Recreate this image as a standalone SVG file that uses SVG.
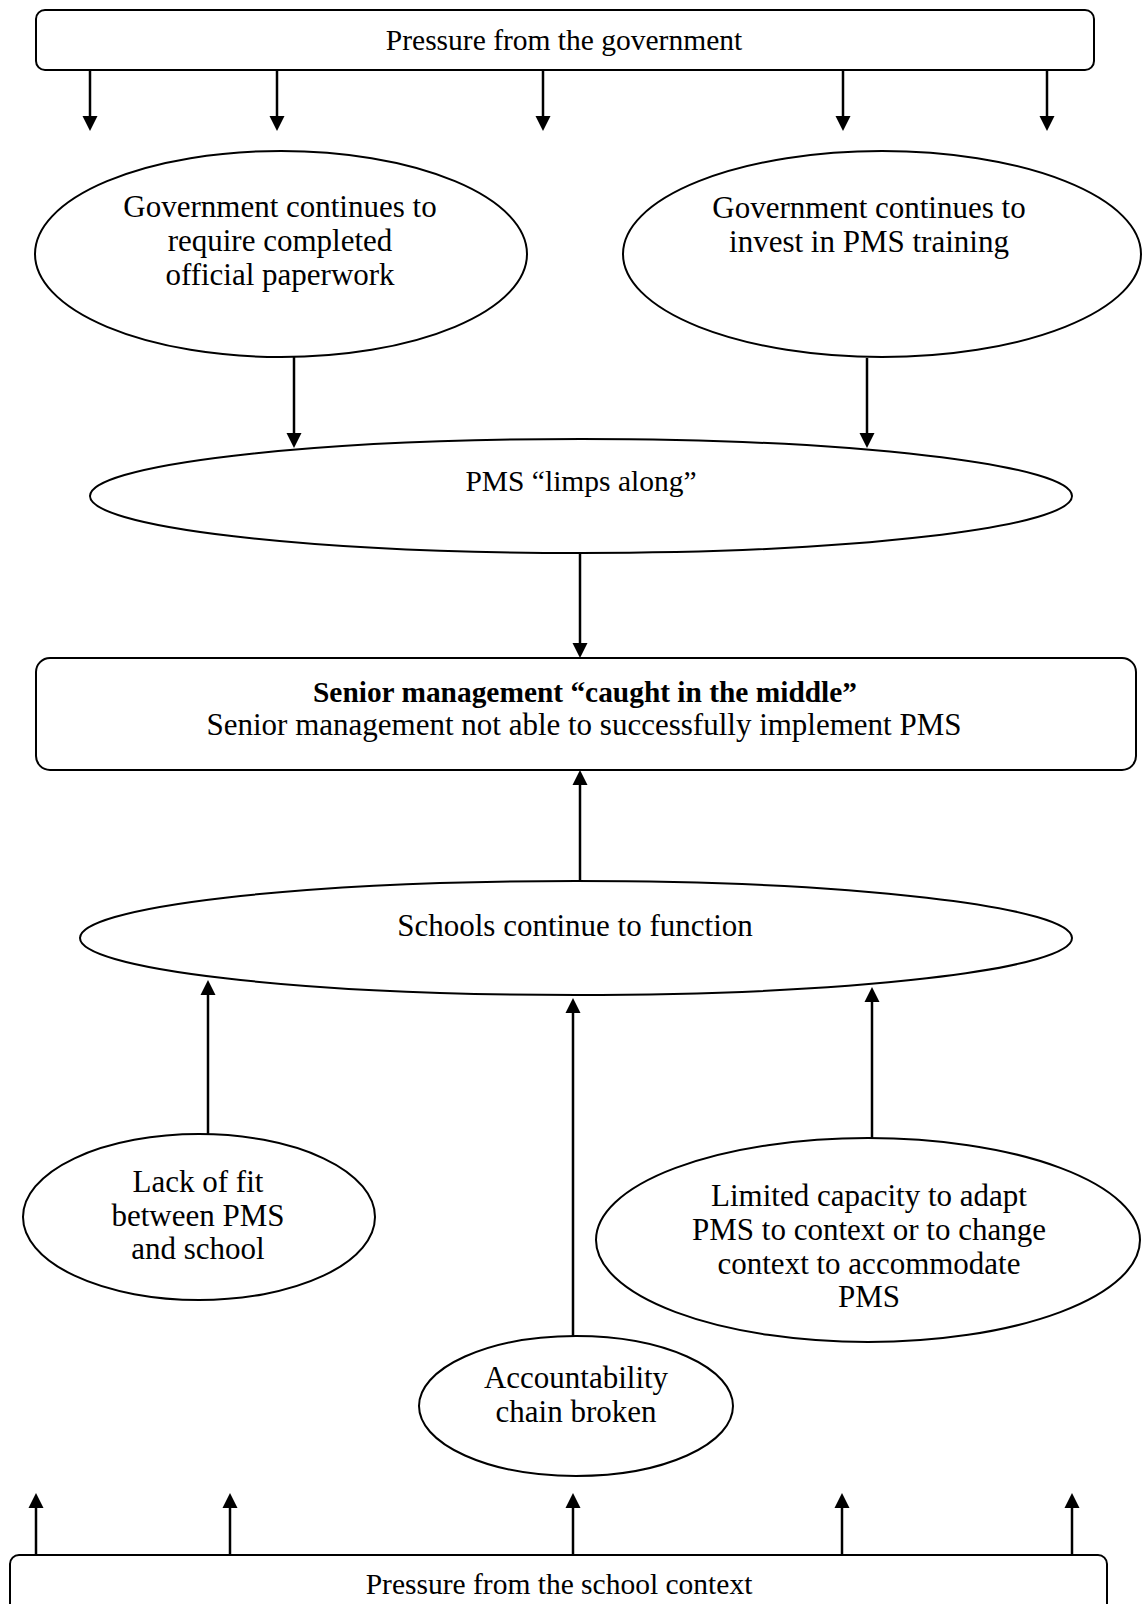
<svg xmlns="http://www.w3.org/2000/svg" width="1144" height="1604" viewBox="0 0 1144 1604">
  <style>
    .shape { fill: #ffffff; stroke: #000000; stroke-width: 2; }
    .lbl { font-family: "Liberation Serif", "Times New Roman", serif; font-size: 31px; fill: #000000; text-anchor: middle; }
    .sm { font-size: 29.5px; }
    .bold { font-weight: bold; font-size: 29.4px; }
    .conn { stroke: #000000; stroke-width: 2.5; fill: none; }
  </style>
  <defs>
    <!-- arrowheads: tip at the origin -->
    <path id="hd" d="M-7.5,-15 L7.5,-15 L0,0 Z" fill="#000000"/>
    <path id="hu" d="M-7.5,15 L7.5,15 L0,0 Z" fill="#000000"/>
  </defs>
  <rect width="1144" height="1604" fill="#ffffff"/>

  <g id="connectors">
    <!-- government pressure, pointing down -->
    <line class="conn" x1="90" y1="70" x2="90" y2="118"/>
    <line class="conn" x1="277" y1="70" x2="277" y2="118"/>
    <line class="conn" x1="543" y1="70" x2="543" y2="118"/>
    <line class="conn" x1="843" y1="70" x2="843" y2="118"/>
    <line class="conn" x1="1047" y1="70" x2="1047" y2="118"/>
    <use href="#hd" x="90" y="131"/>
    <use href="#hd" x="277" y="131"/>
    <use href="#hd" x="543" y="131"/>
    <use href="#hd" x="843" y="131"/>
    <use href="#hd" x="1047" y="131"/>
    <!-- upper ellipses into "limps along" -->
    <line class="conn" x1="294" y1="356" x2="294" y2="435"/>
    <use href="#hd" x="294" y="448"/>
    <line class="conn" x1="867" y1="358" x2="867" y2="435"/>
    <use href="#hd" x="867" y="448"/>
    <!-- "limps along" into senior management -->
    <line class="conn" x1="580" y1="553" x2="580" y2="645"/>
    <use href="#hd" x="580" y="658"/>
    <!-- schools continue up to senior management -->
    <line class="conn" x1="580" y1="882" x2="580" y2="783"/>
    <use href="#hu" x="580" y="770"/>
    <!-- lower ellipses up to schools continue -->
    <line class="conn" x1="208" y1="1134" x2="208" y2="993"/>
    <use href="#hu" x="208" y="980"/>
    <line class="conn" x1="573" y1="1336" x2="573" y2="1011"/>
    <use href="#hu" x="573" y="998"/>
    <line class="conn" x1="872" y1="1138" x2="872" y2="1000"/>
    <use href="#hu" x="872" y="987"/>
    <!-- school context pressure, pointing up -->
    <line class="conn" x1="36" y1="1555" x2="36" y2="1506"/>
    <line class="conn" x1="230" y1="1555" x2="230" y2="1506"/>
    <line class="conn" x1="573" y1="1555" x2="573" y2="1506"/>
    <line class="conn" x1="842" y1="1555" x2="842" y2="1506"/>
    <line class="conn" x1="1072" y1="1555" x2="1072" y2="1506"/>
    <use href="#hu" x="36" y="1493"/>
    <use href="#hu" x="230" y="1493"/>
    <use href="#hu" x="573" y="1493"/>
    <use href="#hu" x="842" y="1493"/>
    <use href="#hu" x="1072" y="1493"/>
  </g>

  <g id="gov-pressure">
    <rect class="shape" x="36" y="10" width="1058" height="60" rx="9"/>
    <text class="lbl sm" x="564" y="50">Pressure from the government</text>
  </g>

  <g id="paperwork">
    <ellipse class="shape" cx="281" cy="254" rx="246" ry="103"/>
    <text class="lbl" x="280" y="217">Government continues to</text>
    <text class="lbl" x="280" y="251">require completed</text>
    <text class="lbl" x="280" y="285">official paperwork</text>
  </g>

  <g id="training">
    <ellipse class="shape" cx="882" cy="254" rx="259" ry="103"/>
    <text class="lbl" x="869" y="218">Government continues to</text>
    <text class="lbl" x="869" y="252">invest in PMS training</text>
  </g>

  <g id="limps-along">
    <ellipse class="shape" cx="581" cy="496" rx="491" ry="57"/>
    <text class="lbl sm" x="581" y="491">PMS “limps along”</text>
  </g>

  <g id="senior-management">
    <rect class="shape" x="36" y="658" width="1100" height="112" rx="14"/>
    <text class="lbl bold" x="585" y="702">Senior management “caught in the middle”</text>
    <text class="lbl" x="584" y="735">Senior management not able to successfully implement PMS</text>
  </g>

  <g id="schools-function">
    <ellipse class="shape" cx="576" cy="938" rx="496" ry="57"/>
    <text class="lbl" x="575" y="936">Schools continue to function</text>
  </g>

  <g id="lack-of-fit">
    <ellipse class="shape" cx="199" cy="1217" rx="176" ry="83"/>
    <text class="lbl" x="198" y="1192">Lack of fit</text>
    <text class="lbl" x="198" y="1226">between PMS</text>
    <text class="lbl" x="198" y="1259">and school</text>
  </g>

  <g id="limited-capacity">
    <ellipse class="shape" cx="868" cy="1240" rx="272" ry="102"/>
    <text class="lbl" x="869" y="1206">Limited capacity to adapt</text>
    <text class="lbl" x="869" y="1240">PMS to context or to change</text>
    <text class="lbl" x="869" y="1274">context to accommodate</text>
    <text class="lbl" x="869" y="1307">PMS</text>
  </g>

  <g id="accountability">
    <ellipse class="shape" cx="576" cy="1406" rx="157" ry="70"/>
    <text class="lbl" x="576" y="1388">Accountability</text>
    <text class="lbl" x="576" y="1422">chain broken</text>
  </g>

  <g id="school-pressure">
    <rect class="shape" x="10" y="1555" width="1097" height="70" rx="9"/>
    <text class="lbl sm" x="559" y="1594">Pressure from the school context</text>
  </g>
</svg>
